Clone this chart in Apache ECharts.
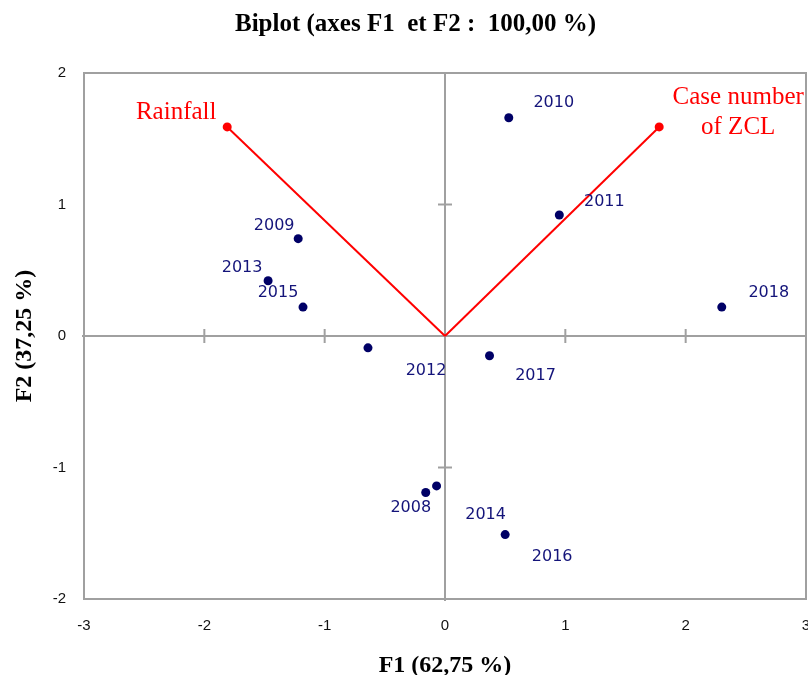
<!DOCTYPE html>
<html>
<head>
<meta charset="utf-8">
<script src="https://cdn.jsdelivr.net/npm/echarts@6/dist/echarts.min.js"></script>
<style>
  html, body { margin: 0; padding: 0; background: #ffffff; }
  #chart { width: 808px; height: 675px; }
</style>
</head>
<body>
<div id="chart"></div>
<script>
// Observations (years) projected on F1 / F2
const years = ['2008', '2009', '2010', '2011', '2012', '2013', '2014', '2015', '2016', '2017', '2018'];
const obsF1 = [-0.16, -1.22, 0.53, 0.95, -0.64, -1.47, -0.07, -1.18, 0.50, 0.37, 2.30];
const obsF2 = [-1.19, 0.74, 1.66, 0.92, -0.09, 0.42, -1.14, 0.22, -1.51, -0.15, 0.22];

// Variables (vectors from the origin)
const variables = ['Rainfall', 'Case number\nof ZCL'];
const varF1 = [-1.81, 1.78];
const varF2 = [1.59, 1.59];

// Tick positions on the axes
const xTicks = [-3, -2, -1, 0, 1, 2, 3];
const yTicks = [-2, -1, 0, 1, 2];

// Label placement (pixel offsets from each point)
const labelOffset = {
  '2008': [-15, 15], '2009': [-24, -13], '2010': [45, -15], '2011': [45, -13],
  '2012': [58, 23], '2013': [-26, -13], '2014': [49, 29], '2015': [-25, -14],
  '2016': [47, 22], '2017': [46, 20], '2018': [47, -14]
};
const varLabelOffset = [[-51, -14], [79, -14]];

const serif = "'Liberation Serif', 'Times New Roman', serif";
const narrow = "'Liberation Sans Narrow', 'Liberation Sans', Arial, sans-serif";
const gray = '#a0a0a0';

const chart = echarts.init(document.getElementById('chart'));

const scatterData = years.map((y, i) => ({
  value: [obsF1[i], obsF2[i]],
  name: y,
  label: { offset: labelOffset[y] }
}));

const vectorSeries = variables.map((name, i) => ({
  type: 'line',
  z: 4,
  data: [
    { value: [0, 0], symbol: 'none', label: { show: false } },
    {
      value: [varF1[i], varF2[i]],
      symbol: 'circle',
      symbolSize: 9,
      label: {
        show: true,
        position: 'inside',
        formatter: name,
        offset: varLabelOffset[i],
        color: '#ff0000',
        fontFamily: serif,
        fontSize: 25,
        lineHeight: 30,
        align: 'center'
      }
    }
  ],
  lineStyle: { color: '#ff0000', width: 2, opacity: 1 },
  itemStyle: { color: '#ff0000', opacity: 1 },
  emphasis: { disabled: true },
  silent: true,
  animation: false
}));

const option = {
  animation: false,
  title: {
    text: 'Biplot (axes F1  et F2 :  100,00 %)',
    left: 230,
    top: 7,
    textStyle: { fontFamily: serif, fontWeight: 'bold', fontSize: 25, color: '#000' }
  },
  grid: {
    left: 84, right: 2, top: 73, bottom: 76,
    outerBoundsMode: 'none',
    containLabel: false,
    show: true, borderColor: gray, borderWidth: 2, backgroundColor: 'transparent'
  },
  xAxis: {
    type: 'value', min: -3, max: 3, interval: 1,
    name: 'F1 (62,75 %)', nameLocation: 'middle', nameGap: 55,
    nameTextStyle: { fontFamily: serif, fontWeight: 'bold', fontSize: 24, color: '#000' },
    axisLine: { show: false, onZero: false },
    axisTick: { show: false },
    splitLine: { show: false },
    axisLabel: { margin: 19, fontFamily: narrow, fontSize: 15, color: '#111', showMaxLabel: true, hideOverlap: false }
  },
  yAxis: {
    type: 'value', min: -2, max: 2, interval: 1,
    name: 'F2 (37,25 %)', nameLocation: 'middle', nameGap: 47, nameRotate: 90,
    nameTextStyle: { fontFamily: serif, fontWeight: 'bold', fontSize: 24, color: '#000' },
    axisLine: { show: false, onZero: false },
    axisTick: { show: false },
    splitLine: { show: false },
    axisLabel: { margin: 18, fontFamily: narrow, fontSize: 15, color: '#111' }
  },
  series: [
    {
      // zero axes with crossing tick marks
      type: 'custom',
      z: 1,
      silent: true,
      data: [[0, 0]],
      renderItem: function (params, api) {
        const children = [];
        const h0 = api.coord([xTicks[0], 0]);
        const h1 = api.coord([xTicks[xTicks.length - 1], 0]);
        const v0 = api.coord([0, yTicks[0]]);
        const v1 = api.coord([0, yTicks[yTicks.length - 1]]);
        const st = { stroke: gray, lineWidth: 2 };
        children.push({ type: 'line', shape: { x1: h0[0] - 2, y1: h0[1], x2: h1[0], y2: h1[1] }, style: st });
        children.push({ type: 'line', shape: { x1: v0[0], y1: v0[1] + 2, x2: v1[0], y2: v1[1] }, style: st });
        xTicks.forEach(t => {
          const p = api.coord([t, 0]);
          children.push({ type: 'line', shape: { x1: p[0], y1: p[1] - 7, x2: p[0], y2: p[1] + 7 }, style: st });
        });
        yTicks.forEach(t => {
          const p = api.coord([0, t]);
          children.push({ type: 'line', shape: { x1: p[0] - 7, y1: p[1], x2: p[0] + 7, y2: p[1] }, style: st });
        });
        return { type: 'group', children: children };
      }
    },
    {
      type: 'scatter',
      z: 5,
      symbol: 'circle',
      symbolSize: 9,
      itemStyle: { color: '#000066', opacity: 1 },
      label: {
        show: true,
        position: 'inside',
        formatter: p => p.name,
        color: '#14147a',
        opacity: 1,
        fontFamily: "'DejaVu Sans', Verdana, sans-serif",
        fontSize: 16
      },
      emphasis: { disabled: true },
      data: scatterData
    },
    ...vectorSeries
  ]
};

chart.setOption(option);
</script>
</body>
</html>
